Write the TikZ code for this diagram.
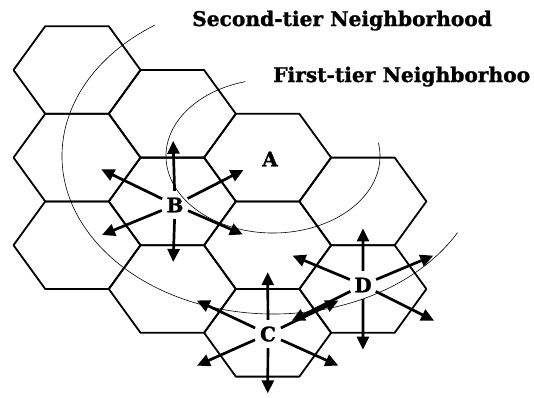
\documentclass[tikz,border=0pt]{standalone}
\usepackage{fontspec}
\setmainfont{DejaVu Serif}[BoldFeatures={FakeBold=1.2}]
\usepackage{tikz}
\usetikzlibrary{arrows.meta,calc}

\begin{document}
\begin{tikzpicture}[x=1pt,y=-1pt,
  cell/.style={draw=black,line width=1.8pt,line join=round},
  tier/.style={draw=black,line width=0.6pt},
  lbl/.style={circle,inner sep=0pt,minimum size=28pt,font=\fontsize{20}{22}\selectfont\bfseries},
  spoke/.style={-{Triangle[length=13pt,width=12pt]},line width=2.7pt,shorten >=27pt},
  title/.style={anchor=base west,inner sep=0pt,font=\fontsize{20.2}{23}\selectfont\bfseries}]
\useasboundingbox (0,0) rectangle (534,397);
\foreach \c/\r in {0/0,0/2,0/4,1/1,1/3,1/5,2/2,2/4,2/6,3/3,3/5}{
  \coordinate (h\c\r) at ({77+95.3*\c},{70+43.8*\r});
  \draw[cell] (h\c\r) ++(63.5,0) -- ++(-31.75,43.8) -- ++(-63.5,0) -- ++(-31.75,-43.8) -- ++(31.75,-43.8) -- ++(63.5,0) -- cycle;
}
\foreach \c/\r in {1/7,2/8,3/7,4/4,4/6}
  \coordinate (h\c\r) at ({77+95.3*\c},{70+43.8*\r});
\coordinate (hub) at (273,156);
\draw[tier] ($(hub)+(255:107 and 77)$) arc[start angle=255,end angle=-10,x radius=107,y radius=77];
\draw[tier] ($(hub)+(236:211 and 158)$) arc[start angle=236,end angle=29,x radius=211,y radius=158];
\node[lbl] (A) at (270,159) {A};
\node[lbl] (B) at (175,205) {B};
\node[lbl] (C) at (268,334) {C};
\node[lbl] (D) at (363,285) {D};
\foreach \n in {h11,h15,h02,h22,h04,h24}
  \draw[spoke] (B) -- (\n);
\foreach \n in {h24,h28,h15,h17,h35,h37}
  \draw[spoke] (C) -- (\n);
\foreach \n in {h33,h37,h24,h44,h26,h46}
  \draw[spoke] (D) -- (\n);
\node[title] (t2) at (192,26) {Second-tier Neighborhood};
\node[title] (t1) at (273,82) {First-tier Neighborhoo};
\end{tikzpicture}
\end{document}
